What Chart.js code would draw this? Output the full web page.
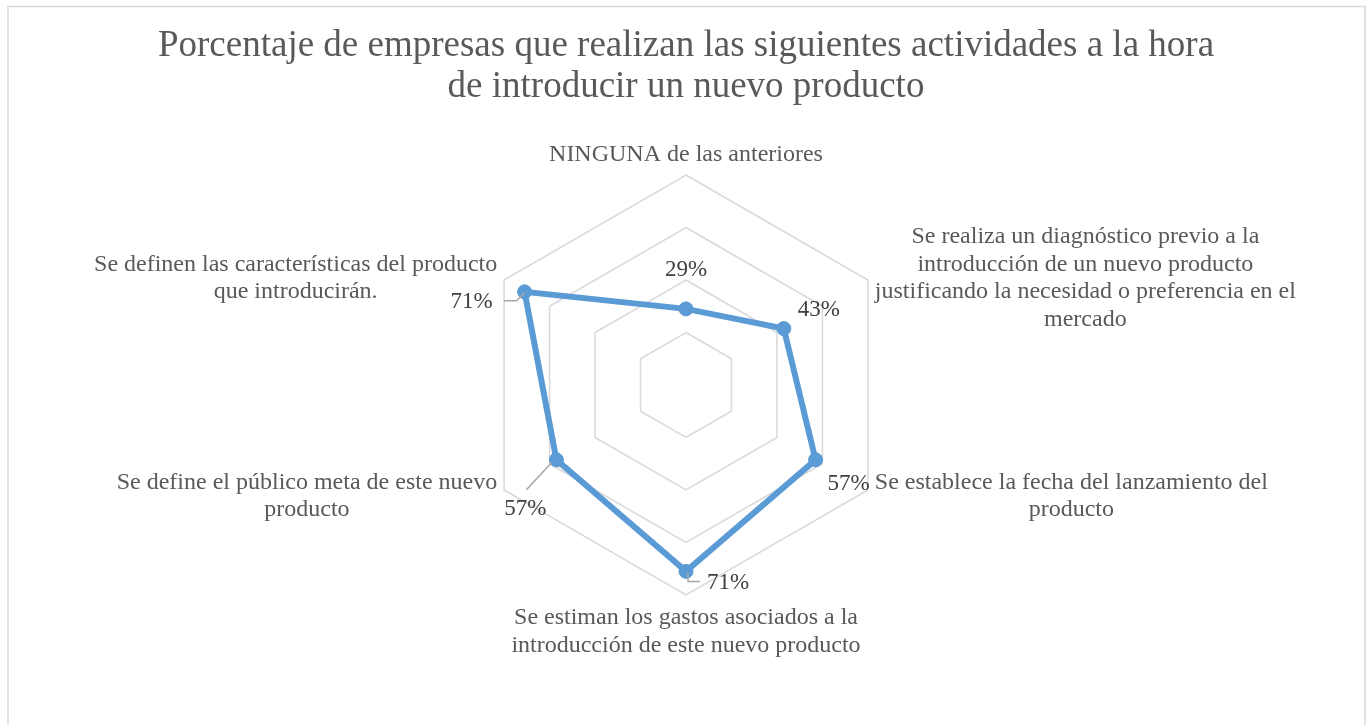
<!DOCTYPE html>
<html>
<head>
<meta charset="utf-8">
<script src="https://cdn.jsdelivr.net/npm/chart.js@4/dist/chart.umd.min.js"></script>
<style>
  html, body { margin: 0; padding: 0; background: #fff; }
  #wrap { width: 1372px; height: 725px; position: relative; }
</style>
</head>
<body>
<div id="wrap"><canvas id="chart"></canvas></div>
<script>
const titleLines = [
  'Porcentaje de empresas que realizan las siguientes actividades a la hora',
  'de introducir un nuevo producto'
];

// categories, clockwise from the top (each entry = lines of the label)
const categories = [
  ['NINGUNA de las anteriores'],
  ['Se realiza un diagnóstico previo a la', 'introducción de un nuevo producto', 'justificando la necesidad o preferencia en el', 'mercado'],
  ['Se establece la fecha del lanzamiento del', 'producto'],
  ['Se estiman los gastos asociados a la', 'introducción de este nuevo producto'],
  ['Se define el público meta de este nuevo', 'producto'],
  ['Se definen las características del producto', 'que introducirán.']
];

const values = [0.29, 0.43, 0.57, 0.71, 0.57, 0.71];

const valueLabels = ['29%', '43%', '57%', '71%', '57%', '71%'];

// where each value label sits relative to its point, and its leader line
const labelOffsets = [
  { dx: 0, dy: -40 },
  { dx: 35, dy: -20 },
  { dx: 33, dy: 23 },
  { dx: 42, dy: 11, leader: [[2, 1], [2, 10], [14, 10]] },
  { dx: -31, dy: 48, leader: [[-5, 3], [-30, 30]] },
  { dx: -53, dy: 9, leader: [[0, 1], [-8, 9], [-21, 9]] }
];

const textColor = '#595959';
const serif = '"Liberation Serif", "Times New Roman", serif';

const frame = {
  id: 'frame',
  beforeDraw(chart) {
    const ctx = chart.ctx;
    ctx.save();
    ctx.fillStyle = '#fff';
    ctx.fillRect(0, 0, chart.width, chart.height);
    ctx.strokeStyle = '#d9d9d9';
    ctx.lineWidth = 1.5;
    ctx.strokeRect(8, 6.5, 1357, 740);
    ctx.restore();
  }
};

const axisLabels = {
  id: 'axisLabels',
  afterDraw(chart) {
    const scale = chart.scales.r;
    const ctx = chart.ctx;
    const lineH = 27.5;
    ctx.save();
    ctx.font = '24px ' + serif;
    ctx.fillStyle = textColor;
    ctx.textAlign = 'center';
    ctx.textBaseline = 'middle';
    categories.forEach((lines, i) => {
      const p = scale.getPointPosition(i, scale.drawingArea + 8);
      const w = Math.max(...lines.map(l => ctx.measureText(l).width));
      const h = lines.length * lineH;
      let cx = p.x, top = p.y - h / 2 + 2;
      if (Math.abs(p.x - scale.xCenter) < 1) {
        top = p.y < scale.yCenter ? p.y - h + 1 : p.y + 1;
      } else if (p.x > scale.xCenter) {
        cx = p.x + w / 2;
      } else {
        cx = p.x - w / 2;
      }
      lines.forEach((l, k) => ctx.fillText(l, cx, top + lineH / 2 + k * lineH));
    });
    ctx.restore();
  }
};

const valueTags = {
  id: 'valueTags',
  afterDatasetsDraw(chart) {
    const ctx = chart.ctx;
    const pts = chart.getDatasetMeta(0).data;
    ctx.save();
    pts.forEach((pt, i) => {
      const o = labelOffsets[i];
      if (o.leader) {
        ctx.strokeStyle = '#a6a6a6';
        ctx.lineWidth = 1.5;
        ctx.beginPath();
        o.leader.forEach(([dx, dy], k) => {
          if (k === 0) ctx.moveTo(pt.x + dx, pt.y + dy);
          else ctx.lineTo(pt.x + dx, pt.y + dy);
        });
        ctx.stroke();
      }
      ctx.font = '23px ' + serif;
      ctx.fillStyle = '#404040';
      ctx.textAlign = 'center';
      ctx.textBaseline = 'middle';
      ctx.fillText(valueLabels[i], pt.x + o.dx, pt.y + o.dy + 1);
    });
    ctx.restore();
  }
};

new Chart(document.getElementById('chart'), {
  type: 'radar',
  data: {
    labels: categories,
    datasets: [{
      data: values,
      borderColor: '#5b9bd5',
      backgroundColor: 'rgba(0,0,0,0)',
      borderWidth: 6,
      pointRadius: 7,
      pointHoverRadius: 7,
      pointBackgroundColor: '#5b9bd5',
      pointBorderColor: '#5b9bd5',
      pointBorderWidth: 1,
      fill: false,
      tension: 0
    }]
  },
  options: {
    responsive: true,
    maintainAspectRatio: false,
    animation: false,
    layout: { padding: { top: 0, bottom: 130, left: 0, right: 0 } },
    plugins: {
      legend: { display: false },
      tooltip: { enabled: false },
      title: {
        display: true,
        text: titleLines,
        color: textColor,
        font: { family: serif, size: 37, weight: 'normal', lineHeight: 1.1 },
        padding: { top: 26, bottom: 67.6 }
      }
    },
    scales: {
      r: {
        min: 0,
        max: 0.8,
        ticks: { display: false, stepSize: 0.2 },
        grid: { color: '#d9d9d9', lineWidth: 1.5 },
        angleLines: { display: false },
        pointLabels: { display: false }
      }
    }
  },
  plugins: [frame, axisLabels, valueTags]
});
</script>
</body>
</html>
